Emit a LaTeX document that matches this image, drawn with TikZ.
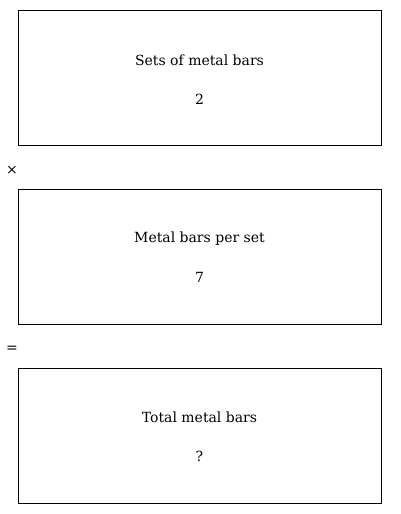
\documentclass[tikz,border=0pt]{standalone}
\usepackage{fontspec}
\setmainfont{DejaVu Serif}
\begin{document}
\begin{tikzpicture}[x=1pt, y=1pt, font=\fontsize{14}{17}\selectfont,
  factorbox/.style={draw, minimum width=363pt, minimum height=135pt, inner sep=0pt}]
  \useasboundingbox (0,0) rectangle (400,-514);
  \node[factorbox] (sets) at (199.5,-77.5) {};
  \node (setstitle) at (199.5,-60) {Sets of metal bars};
  \node (setsval) at (199.5,-99) {2};
  \node (times) at (12,-170) {×};
  \node[factorbox] (per) at (199.5,-256.5) {};
  \node (pertitle) at (199.5,-239) {Metal bars per set};
  \node (perval) at (199.5,-277) {7};
  \node (equals) at (12,-349) {=};
  \node[factorbox] (total) at (199.5,-435.5) {};
  \node (totaltitle) at (199.5,-417) {Total metal bars};
  \node (totalval) at (199.5,-456) {?};
\end{tikzpicture}
\end{document}
